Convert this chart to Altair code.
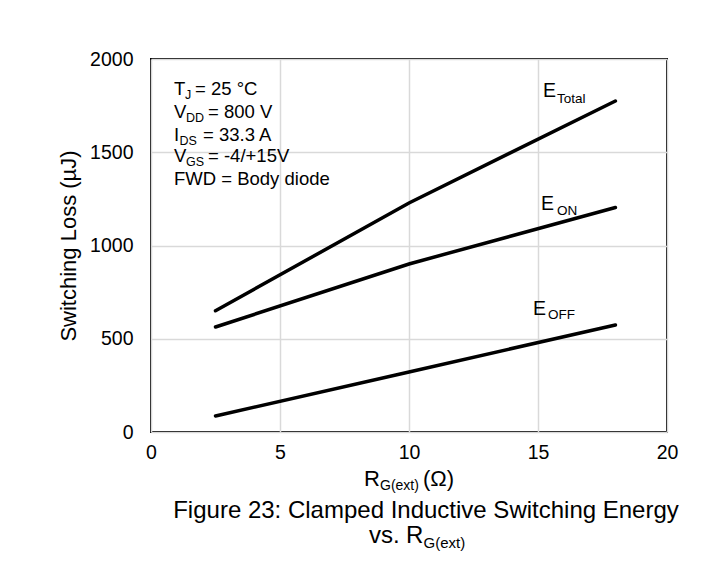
import altair as alt
import pandas as pd

# ---- data ----
rg = [2.5, 10, 18]
e_total = [650, 1228, 1775]
e_on = [563, 901, 1204]
e_off = [86, 322, 574]
series_names = ["ETotal", "EON", "EOFF"]

x_ticks = [0, 5, 10, 15, 20]
y_ticks = [0, 500, 1000, 1500, 2000]

rows = []
for name, vals in zip(series_names, [e_total, e_on, e_off]):
    for xv, yv in zip(rg, vals):
        rows.append({"series": name, "rg": xv, "loss": yv})
df = pd.DataFrame(rows)

FONT = "Liberation Sans"
W, H = 516, 373

# annotation text pieces (text, x px, y px, font size) relative to plot area
box_text = ["T", "J", "= 25 °C",
            "V", "DD", "= 800 V",
            "I", "DS", "= 33.3 A",
            "V", "GS", "= -4/+15V",
            "FWD = Body diode"]
box_x = [23, 34, 44,
         23, 35, 57,
         23, 28.5, 52,
         23, 35, 57,
         23]
box_y = [36, 40, 36,
         59, 63, 59,
         82, 86, 82,
         103, 107, 103,
         126]
box_size = [18.5, 12.5, 18.5,
            18.5, 12.5, 18.5,
            18.5, 12.5, 18.5,
            18.5, 12.5, 18.5,
            18.5]

curve_text = ["E", "Total", "E", "ON", "E", "OFF"]
curve_x = [392, 406, 390, 406, 382, 397]
curve_y = [38, 44, 151, 156, 256, 260]
curve_size = [19.5, 13.5, 19.5, 13.5, 19.5, 13.5]

xt_text = ["R", "G(ext)", "(Ω)", "vs.", "R", "G(ext)"]
xt_x = [213, 229, 272, 218, 255, 272.5]
xt_y = [427, 431, 427, 484, 484, 489]
xt_size = [22, 14, 22, 24, 24, 15]

caption = ["Figure 23: Clamped Inductive Switching Energy"]
cap_x = [275]
cap_y = [459]

left_df = pd.DataFrame({
    "t": box_text + curve_text + xt_text,
    "px": box_x + curve_x + xt_x,
    "py": box_y + curve_y + xt_y,
    "fs": box_size + curve_size + xt_size,
})
cap_df = pd.DataFrame({"t": caption, "px": cap_x, "py": cap_y})

x_enc = alt.X(
    "rg:Q",
    scale=alt.Scale(domain=[0, 20], nice=False, zero=False),
    axis=alt.Axis(values=x_ticks, title=None, ticks=False, tickSize=0, domain=False,
                  labelFontSize=19.5, labelPadding=11, labelFont=FONT, labelColor="black",
                  gridColor="#d9d9d9", gridWidth=1.5, labelFlush=False, format="d"),
)
y_enc = alt.Y(
    "loss:Q",
    scale=alt.Scale(domain=[0, 2000], nice=False),
    axis=alt.Axis(values=y_ticks, title="Switching Loss (µJ)", ticks=False, tickSize=0,
                  domain=False, labelFontSize=19.5, labelPadding=18, labelFont=FONT,
                  labelColor="black", gridColor="#d9d9d9", gridWidth=1.5, format="d",
                  titleFont=FONT, titleFontSize=22, titleFontWeight="normal",
                  titleColor="black", titlePadding=9, labelFlush=False),
)

lines = alt.Chart(df).mark_line(color="black", strokeWidth=3.5, strokeCap="round").encode(
    x=x_enc, y=y_enc, detail="series:N"
)

texts = alt.Chart(left_df).mark_text(
    align="left", baseline="alphabetic", font=FONT, color="black"
).encode(
    x=alt.X("px:Q", scale=None, axis=None),
    y=alt.Y("py:Q", scale=None, axis=None),
    size=alt.Size("fs:Q", scale=None, legend=None),
    text="t:N",
)

cap = alt.Chart(cap_df).mark_text(
    align="center", baseline="alphabetic", font=FONT, color="black", fontSize=24
).encode(
    x=alt.X("px:Q", scale=None, axis=None),
    y=alt.Y("py:Q", scale=None, axis=None),
    text="t:N",
)

chart = alt.layer(lines, texts, cap).resolve_scale(
    x="independent", y="independent"
).properties(
    width=W, height=H,
    autosize=alt.AutoSizeParams(type="none"),
    padding={"left": 143, "top": 51, "right": 32, "bottom": 126},
    background="white",
).configure_view(stroke="black", strokeWidth=2)

chart.save("out.html", embed_options={"renderer": "svg", "actions": False})
